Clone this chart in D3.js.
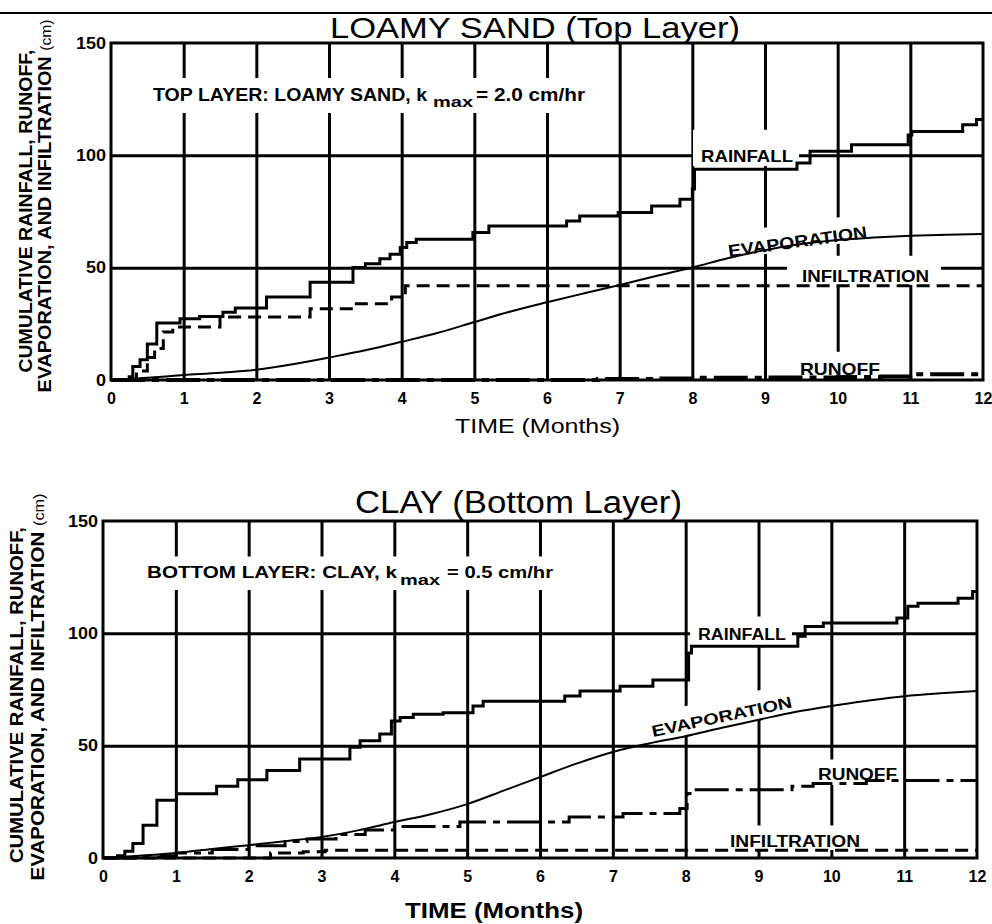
<!DOCTYPE html>
<html>
<head>
<meta charset="utf-8">
<script src="https://cdn.jsdelivr.net/npm/d3@7"></script>
<style>
  body { margin: 0; background: #fff; }
  svg { display: block; }
  text { font-family: "Liberation Sans", Arial, sans-serif; fill: #000; }
</style>
</head>
<body>
<div id="root"></div>
<script>
// ---- data (months, cumulative cm) ----
const monthTicks = d3.range(0, 13);
const gridMonths = d3.range(1, 12);
const valueTicks = [0, 50, 100, 150];
const gridValues = [50, 100];

// top panel: loamy sand
const topRainT = [0, 0.25, 0.3, 0.4, 0.5, 0.63, 0.95, 1.22, 1.54, 1.71, 2.14, 2.74, 3.33, 3.5, 3.7, 3.84, 3.98, 4.07, 4.2, 4.98, 5.2, 6.27, 6.45, 6.98, 7.44, 7.83, 8.0, 8.03, 9.44, 9.62, 10.19, 10.97, 11.02, 11.72, 11.91, 12];
const topRainV = [0, 1.5, 6, 9, 16, 25.4, 27.3, 28.3, 30.2, 32.1, 36.9, 43.5, 50.1, 51.7, 54, 56, 59, 61.2, 62.7, 65.6, 68.6, 70.8, 73, 74.5, 77.4, 80.4, 85, 93.8, 96.6, 101.8, 104.7, 109, 110.6, 113.6, 116, 116];
const topInfT = [0, 0.35, 0.5, 0.6, 0.72, 0.85, 1.5, 2.74, 3.33, 3.86, 4.05, 12];
const topInfV = [0, 4, 10, 14, 21.4, 23.6, 28, 31.7, 33.9, 36.9, 42, 42];
const topEvapT = [0, 0.5, 1, 1.5, 2, 2.5, 3, 3.5, 4, 4.5, 5, 5.5, 6, 6.5, 7, 7.5, 8, 8.5, 9, 9.5, 10, 10.5, 11, 11.5, 12];
const topEvapV = [0, 1, 2.2, 3.2, 4.6, 7, 10, 13.2, 17, 21, 25.8, 30.5, 34.6, 38.5, 42.3, 46.3, 50.1, 54.3, 57.8, 60.5, 62.3, 63.4, 64.2, 64.7, 65];
const topRunT = [0, 6.7, 7.5, 8.1, 9, 10, 10.6, 11, 12];
const topRunV = [0, 0.4, 0.7, 1, 1.1, 1.3, 1.6, 2.6, 2.6];

// bottom panel: clay
const botRainT = [0, 0.2, 0.3, 0.41, 0.55, 0.74, 1.01, 1.56, 1.85, 2.25, 2.7, 3.39, 3.53, 3.8, 3.96, 4.08, 4.26, 4.67, 5.08, 5.22, 6.34, 6.55, 7.1, 7.55, 8.04, 8.08, 9.54, 9.64, 9.89, 10.9, 11.05, 11.19, 11.74, 11.94, 12];
const botRainV = [0, 1, 3, 6.5, 14.6, 25.7, 28.6, 31.9, 34.8, 38.9, 44.1, 49.3, 52.2, 55.2, 61, 62.5, 64, 64.7, 67.7, 69.8, 72.1, 74.3, 76.5, 79.2, 91.3, 94.2, 98.7, 103, 104.6, 106.8, 112, 113.4, 115.6, 118.6, 118.6];
const botInfT = [0, 2.3, 2.75, 3.05, 12];
const botInfV = [0, 2.2, 2.8, 3.5, 3.5];
const botEvapT = [0, 0.5, 1, 1.5, 2, 2.5, 3, 3.5, 4, 4.5, 5, 5.5, 6, 6.5, 7, 7.5, 8, 8.5, 9, 9.5, 10, 10.5, 11, 11.5, 12];
const botEvapV = [0, 1, 2.2, 4, 5.7, 7.5, 9.4, 12.3, 16, 19.5, 24, 30, 36, 42, 47.2, 51, 54.2, 58, 61.5, 65, 67.7, 70, 72, 73.3, 74.3];
const botRunT = [0, 0.5, 0.8, 1, 1.5, 2, 2.5, 2.8, 3.2, 3.6, 4, 4.9, 6.4, 7.14, 7.92, 8.02, 8.1, 9.46, 9.75, 10.48, 12];
const botRunV = [0, 0.5, 1, 2.2, 3.8, 5.5, 7.3, 8.5, 10.5, 12.5, 14, 16, 18.3, 19.8, 22, 28.7, 30.4, 31.9, 33.2, 34.5, 34.5];

const zip = (t, v) => t.map((d, i) => [d, v[i]]);

const W = 992, H = 924;
const svg = d3.select('#root').append('svg')
    .attr('width', W)
    .attr('height', H);

// separator at the very top
svg.append('line')
    .attr('x1', 0).attr('x2', W)
    .attr('y1', 13).attr('y2', 13)
    .attr('stroke', '#000').attr('stroke-width', 2);

const drawPanel = (p) => {
    const x = d3.scaleLinear().domain([0, 12]).range([p.left, p.right]);
    const y = d3.scaleLinear().domain([0, 150]).range([p.bottom, p.top]);
    const g = svg.append('g');
    const gridG = g.append('g');
    const knockG = g.append('g');
    const dataG = g.append('g');
    const textG = g.append('g');

    // grid
    gridG.append('g')
        .attr('transform', `translate(0,${p.bottom})`)
        .call(d3.axisBottom(x).tickValues(gridMonths).tickSize(-(p.bottom - p.top)).tickFormat(''))
        .call(a => a.select('.domain').remove())
        .selectAll('line').attr('stroke', '#000').attr('stroke-width', 3);
    gridG.append('g')
        .attr('transform', `translate(${p.left},0)`)
        .call(d3.axisLeft(y).tickValues(gridValues).tickSize(-(p.right - p.left)).tickFormat(''))
        .call(a => a.select('.domain').remove())
        .selectAll('line').attr('stroke', '#000').attr('stroke-width', 3);

    // tick labels
    const xa = g.append('g')
        .attr('transform', `translate(0,${p.bottom})`)
        .call(d3.axisBottom(x).tickValues(monthTicks).tickSize(0).tickPadding(p.xPad));
    xa.select('.domain').remove();
    xa.selectAll('text').attr('font-size', 16).attr('font-weight', 'bold')
        .attr('font-family', '"Liberation Sans", Arial, sans-serif');
    const ya = g.append('g')
        .attr('transform', `translate(${p.left},0)`)
        .call(d3.axisLeft(y).tickValues(valueTicks).tickSize(0).tickPadding(5));
    ya.select('.domain').remove();
    ya.selectAll('text').attr('font-size', 16).attr('font-weight', 'bold')
        .attr('font-family', '"Liberation Sans", Arial, sans-serif')
        .attr('textLength', d => d >= 100 ? 30 : (d >= 10 ? 20 : 10))
        .attr('lengthAdjust', 'spacingAndGlyphs');

    // labels with white knock-out boxes behind them
    const label = (o) => {
        const tr = `translate(${o.x},${o.y}) rotate(${o.angle || 0})`;
        const t = textG.append('text')
            .attr('transform', tr)
            .attr('font-size', o.size)
            .attr('font-weight', o.weight || 'bold')
            .attr('textLength', o.len)
            .attr('lengthAdjust', 'spacingAndGlyphs')
            .text(o.text);
        if (o.pad) {
            const [l, tp, r, b] = o.pad;
            const cap = o.size * 0.72;
            knockG.append('rect')
                .attr('transform', tr)
                .attr('x', -l).attr('y', -cap - tp)
                .attr('width', o.len + l + r).attr('height', cap + tp + b)
                .attr('fill', '#fff');
        }
        return t;
    };
    p.labels.forEach(label);

    // frame
    g.append('rect')
        .attr('x', p.left).attr('y', p.top)
        .attr('width', p.right - p.left).attr('height', p.bottom - p.top)
        .attr('fill', 'none').attr('stroke', '#000').attr('stroke-width', 3);

    // series
    const step = d3.line().x(d => x(d[0])).y(d => y(d[1])).curve(d3.curveStepAfter);
    const smooth = d3.line().x(d => x(d[0])).y(d => y(d[1])).curve(d3.curveMonotoneX);
    dataG.append('path').datum(zip(p.evapT, p.evapV))
        .attr('d', smooth).attr('fill', 'none').attr('stroke', '#000').attr('stroke-width', 2);
    dataG.append('path').datum(zip(p.infT, p.infV))
        .attr('d', step).attr('fill', 'none').attr('stroke', '#000').attr('stroke-width', 3)
        .attr('stroke-dasharray', '13 7');
    dataG.append('path').datum(zip(p.runT, p.runV))
        .attr('d', step).attr('fill', 'none').attr('stroke', '#000').attr('stroke-width', p.runW)
        .attr('stroke-dasharray', '34 7 7 7');
    dataG.append('path').datum(zip(p.rainT, p.rainV))
        .attr('d', step).attr('fill', 'none').attr('stroke', '#000').attr('stroke-width', 3);
};

drawPanel({
    left: 111, right: 983, top: 43, bottom: 380, xPad: 13, runW: 4,
    rainT: topRainT, rainV: topRainV, infT: topInfT, infV: topInfV,
    evapT: topEvapT, evapV: topEvapV, runT: topRunT, runV: topRunV,
    labels: [
        { text: 'LOAMY SAND (Top Layer)', x: 330, y: 38, size: 29, weight: 'normal', len: 410 },
        { text: 'TOP LAYER: LOAMY SAND, k', x: 153, y: 101, size: 18, len: 274, pad: [6, 10, 3, 12] },
        { text: 'max', x: 433, y: 107, size: 15, len: 40, pad: [3, 16, 3, 6] },
        { text: '= 2.0 cm/hr', x: 476, y: 101, size: 18, len: 109, pad: [4, 10, 6, 12] },
        { text: 'RAINFALL', x: 701, y: 162, size: 17, len: 92, pad: [8, 20, 6, 4] },
        { text: 'EVAPORATION', x: 729, y: 257, size: 17, len: 140, angle: -7.9, pad: [2, 12, 2, 2] },
        { text: 'INFILTRATION', x: 802, y: 282, size: 17, len: 127, pad: [15, 14, 12, 3] },
        { text: 'RUNOFF', x: 800, y: 375, size: 17, len: 80, pad: [6, 11, 6, 8] },
        { text: 'TIME (Months)', x: 455, y: 433, size: 20, weight: 'normal', len: 165 }
    ]
});

drawPanel({
    left: 103, right: 977, top: 521, bottom: 858, xPad: 13, runW: 3,
    rainT: botRainT, rainV: botRainV, infT: botInfT, infV: botInfV,
    evapT: botEvapT, evapV: botEvapV, runT: botRunT, runV: botRunV,
    labels: [
        { text: 'CLAY (Bottom Layer)', x: 355, y: 513, size: 31, weight: 'normal', len: 327 },
        { text: 'BOTTOM LAYER: CLAY,  k', x: 147, y: 578, size: 16, len: 250, pad: [6, 10, 3, 12] },
        { text: 'max', x: 400, y: 585, size: 15, len: 40, pad: [3, 16, 3, 5] },
        { text: '= 0.5 cm/hr', x: 447, y: 578, size: 16, len: 106, pad: [4, 10, 6, 12] },
        { text: 'RAINFALL', x: 698, y: 640, size: 16, len: 88, pad: [8, 12, 6, 5] },
        { text: 'EVAPORATION', x: 653, y: 737, size: 16, len: 143, angle: -12, pad: [2, 12, 2, 5] },
        { text: 'RUNOFF', x: 818, y: 780, size: 16, len: 79, pad: [4, 9, 4, 5] },
        { text: 'INFILTRATION', x: 730, y: 847, size: 16, len: 130, pad: [6, 10, 6, 3] },
        { text: 'TIME (Months)', x: 405, y: 918, size: 22, len: 178 }
    ]
});

// rotated y-axis titles
const yTitle = (xPos, cy, len, text, sub) => {
    const t = svg.append('text')
        .attr('transform', `translate(${xPos},${cy}) rotate(-90)`)
        .attr('text-anchor', 'middle')
        .attr('font-size', 19)
        .attr('font-weight', 'bold')
        .attr('textLength', len)
        .attr('lengthAdjust', 'spacingAndGlyphs');
    t.append('tspan').text(text);
    if (sub) t.append('tspan').attr('font-weight', 'normal').attr('font-size', 15).text(sub);
};
yTitle(32, 211, 323, 'CUMULATIVE RAINFALL, RUNOFF,');
yTitle(51, 206, 373, 'EVAPORATION, AND INFILTRATION ', '(cm)');
yTitle(23, 695, 336, 'CUMULATIVE RAINFALL, RUNOFF,');
yTitle(44, 687, 387, 'EVAPORATION, AND INFILTRATION ', '(cm)');
</script>
</body>
</html>
